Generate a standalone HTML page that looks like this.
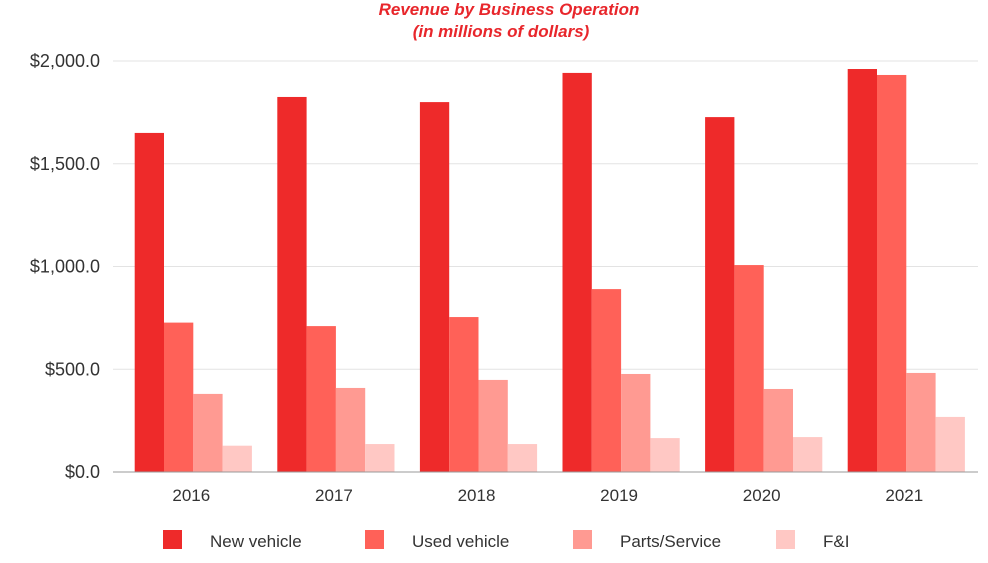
<!DOCTYPE html>
<html><head><meta charset="utf-8"><style>
body{margin:0;background:#fff;font-family:"Liberation Sans",sans-serif;}
svg text{font-family:"Liberation Sans",sans-serif;}
</style></head><body>
<svg id="chart" width="988" height="558">
<text x="509" y="15" text-anchor="middle" font-size="17" font-weight="bold" font-style="italic" fill="#e8262b">Revenue by Business Operation</text>
<text x="501" y="37" text-anchor="middle" font-size="17" font-weight="bold" font-style="italic" fill="#e8262b">(in millions of dollars)</text>
<g id="grid"></g><g id="bars"></g><g id="axes"></g><g id="legend"></g>
</svg>
<script>
const categories=["2016","2017","2018","2019","2020","2021"];
const seriesNames=["New vehicle","Used vehicle","Parts/Service","F&I"];
const newVehicle=[1650,1825,1800,1942,1727,1961];
const usedVehicle=[727,710,754,890,1007,1932];
const partsService=[380,409,448,477,404,482];
const fi=[128,136,136,165,170,268];
const yTicks=[0,500,1000,1500,2000];
const yTickLabels=["$0.0","$500.0","$1,000.0","$1,500.0","$2,000.0"];
const colors=["#ee2a2a","#ff6158","#ff9a92","#ffc8c4"];
const NS="http://www.w3.org/2000/svg";
const gx0=113,gx1=978,x0=122,x1=977.6,yBase=472,yTop=61,yMax=2000;
const y=v=>yBase-(v/yMax)*(yBase-yTop);
const band=(x1-x0)/categories.length;
const bx=i=>x0+band*i+band/2;
const bw=29.3;
function mk(tag,attrs,parent){const e=document.createElementNS(NS,tag);for(const k in attrs)e.setAttribute(k,attrs[k]);parent.appendChild(e);return e;}
const grid=document.getElementById('grid'),bars=document.getElementById('bars'),axes=document.getElementById('axes'),legend=document.getElementById('legend');
yTicks.forEach((t,i)=>{
 if(t>0){const l=mk('line',{x1:gx0,x2:gx1,y1:y(t),y2:y(t),stroke:'#e3e3e3','stroke-width':1},grid);
 
 }
 const tx=mk('text',{x:100,y:y(t)+6,'text-anchor':'end','font-size':18,fill:'#333'},axes);
 tx.textContent=yTickLabels[i];
 
 
});
const al=mk('line',{x1:gx0,x2:gx1,y1:yBase,y2:yBase,stroke:'#999','stroke-width':1},axes);


const series=[newVehicle,usedVehicle,partsService,fi];
categories.forEach((c,i)=>{
 series.forEach((s,j)=>{
  const left=bx(i)-2*bw+j*bw;
  const r=mk('rect',{x:left,y:y(s[i]),width:bw,height:yBase-y(s[i]),fill:colors[j]},bars);
  
  
 });
 const t=mk('text',{x:bx(i)-2,y:501,'text-anchor':'middle','font-size':17,fill:'#333'},axes);
 t.textContent=c;
 
 
});
const lx=[163,365,573,776];
seriesNames.forEach((n,j)=>{
 const r=mk('rect',{x:lx[j],y:530,width:19,height:19,fill:colors[j]},legend);
 
 
 const t=mk('text',{x:lx[j]+47,y:547,'font-size':17,fill:'#333'},legend);
 t.textContent=n;
 
 
});
</script>
</body></html>
